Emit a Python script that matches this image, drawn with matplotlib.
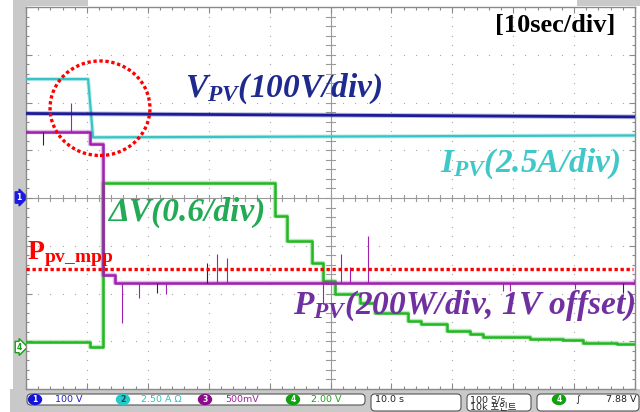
import numpy as np
import matplotlib
matplotlib.use("Agg")
import matplotlib.pyplot as plt
from matplotlib.patches import Ellipse, FancyBboxPatch, Rectangle

# time in seconds (10 s/div), vertical position in screen divisions
vpv_t = [0, 100]
vpv_lvl = [1.77, 1.70]

ipv_t = [0, 10.2, 11.0, 100]
ipv_lvl = [2.49, 2.49, 1.27, 1.31]

ppv_t = [0, 10.5, 12.6, 14.6, 100]
ppv_lvl = [1.38, 1.14, -1.61, -1.78, -1.74]

dv_t = [0, 10.5, 12.6, 40.9, 42.9, 47.0, 48.8, 50.7, 54.8, 57.3, 62.7,
        64.9, 69.1, 72.9, 75.0, 82.8, 88.2, 91.5, 97.0, 100]
dv_lvl = [-3.01, -3.12, 0.31, -0.37, -0.91, -1.36, -1.73, -2.00, -2.19, -2.41,
          -2.57, -2.64, -2.78, -2.85, -2.91, -2.95, -2.97, -3.04, -3.06, -3.06]

# glitches on the power trace
ppv_spike_t = [7.4, 15.8, 18.6, 23.0, 31.4, 33.0, 48.8, 51.7, 53.2, 56.2, 78.3, 79.5, 90.1]
ppv_spike_tip = [1.98, -2.62, -2.09, -2.01, -1.17, -1.25, -2.22, -1.17, -1.45, -0.79, -1.94, -1.95, -1.90]
dark_spike_t = [2.8, 21.5, 29.7, 98.0]
dark_spike_tip = [1.12, -1.99, -1.36, -1.99]

p_mpp = -1.48

# status bar readouts
ch_labels = ["1", "2", "3", "4"]
ch_scales = ["100 V", "2.50 A \u03a9", "500mV", "2.00 V"]
ch_colors = ["#1414d8", "#22cccc", "#8c0a8c", "#12a012"]
ch_text_colors = ["#2020c0", "#30c0c0", "#a020a0", "#20a020"]
time_scale = "10.0 s"
sample_rate = "100 S/s"
record_len = "10k 포인트"
trig_level = "7.88 V"

C_VPV = "#1c1c98"
C_IPV = "#38c4c4"
C_PPV = "#a020b0"
C_DV = "#22b822"

plt.rcParams['mathtext.fontset'] = 'custom'
plt.rcParams['mathtext.it'] = 'Liberation Serif:italic:bold'
plt.rcParams['mathtext.rm'] = 'Liberation Serif:bold'
plt.rcParams['mathtext.bf'] = 'Liberation Serif:bold'

fig = plt.figure(figsize=(6.4, 4.12), dpi=100)

# background / frame overlay in pixel coords
bg = fig.add_axes([0, 0, 1, 1])
bg.set_xlim(0, 640)
bg.set_ylim(412, 0)
bg.axis('off')
bg.set_zorder(1)
gray = "#c9c9c9"
bg.add_patch(Rectangle((13, 0), 13, 412, color=gray, lw=0))
bg.add_patch(Rectangle((10, 389), 630, 23, color=gray, lw=0))
bg.add_patch(Rectangle((13, 0), 75, 6, color=gray, lw=0))
bg.add_patch(Rectangle((577, 0), 63, 6, color=gray, lw=0))

# plot area (graticule 10 x 8 div)
ax = fig.add_axes([26 / 640, 1 - 389 / 412, 609 / 640, 382 / 412])
ax.set_zorder(2)
ax.set_xlim(0, 100)
ax.set_ylim(-4, 4)
for s in ax.spines.values():
    s.set_color("#8a8a8a")
    s.set_linewidth(1.0)
ax.set_xticks(np.arange(0, 101, 10))
ax.set_xticks(np.arange(0, 101, 2), minor=True)
ax.set_yticks(np.arange(-4, 4.01, 1))
ax.set_yticks(np.arange(-4, 4.01, 0.2), minor=True)
ax.tick_params(which='both', direction='in', top=True, right=True,
               labelbottom=False, labelleft=False, color="#8a8a8a", width=0.8)
ax.tick_params(which='major', length=4)
ax.tick_params(which='minor', length=2.5)

gx, gy = [], []
for x in range(10, 100, 10):
    for y in np.arange(-4, 4.01, 0.2):
        gx.append(x); gy.append(y)
for y in range(-3, 4):
    for x in np.arange(0, 100.1, 2):
        gx.append(x); gy.append(y)
ax.scatter(gx, gy, s=0.8, color="#a8a8a8", lw=0, zorder=1)
ax.axhline(0, color="#9a9a9a", lw=0.8, zorder=1)
ax.axvline(50, color="#9a9a9a", lw=0.8, zorder=1)
for x in np.arange(0, 100.1, 2):
    ax.plot([x, x], [-0.07, 0.07], color="#9a9a9a", lw=0.8, zorder=1)
for y in np.arange(-4, 4.01, 0.2):
    ax.plot([49.3, 50.7], [y, y], color="#9a9a9a", lw=0.8, zorder=1)


def trace(t, lv, color, lw, z, steps=False):
    ds = 'steps-post' if steps else 'default'
    # soft halo imitates the fuzzy scope trace
    ax.plot(t, lv, color=color, lw=lw + 1.4, alpha=0.3, drawstyle=ds, zorder=z)
    ax.plot(t, lv, color=color, lw=lw, drawstyle=ds, zorder=z)


trace(vpv_t, vpv_lvl, C_VPV, 2.0, 5)
trace(ipv_t, ipv_lvl, C_IPV, 1.6, 4)
trace(dv_t, dv_lvl, C_DV, 1.8, 3, steps=True)
trace(ppv_t, ppv_lvl, C_PPV, 1.8, 4, steps=True)


def level_at(ts, lv, t):
    idx = np.searchsorted(ts, t, side='right') - 1
    return np.asarray(lv)[idx]


ax.vlines(ppv_spike_t, level_at(ppv_t, ppv_lvl, ppv_spike_t), ppv_spike_tip,
          color=C_PPV, lw=0.8, zorder=4)
ax.vlines(dark_spike_t, level_at(ppv_t, ppv_lvl, dark_spike_t), dark_spike_tip,
          color="#3a1a40", lw=0.8, zorder=4)

# MPP reference and highlight circle
ax.plot([0, 99.7], [p_mpp, p_mpp], color="red", lw=2.4, linestyle=(0, (1, 0.8)), zorder=6)
ax.add_patch(Ellipse((12.15, 1.88), 16.4, 1.98, fill=False, edgecolor="red",
                     lw=2.4, linestyle=(0, (1, 0.8)), zorder=6))

# annotations
lab = dict(fontfamily='Liberation Serif', fontweight='bold', fontstyle='italic',
           fontsize=24, va='baseline', zorder=7)
ax.text(26.1, 2.11, r"$V_{PV}$(100V/div)", color="#1f2a8f", ha='left', **lab)
ax.text(97.5, 0.54, r"$I_{PV}$(2.5A/div)", color="#40c8c8", ha='right', **lab)
ax.text(13.5, -0.47, "\u0394V(0.6/div)", color="#22aa55", ha='left', **lab)
ax.text(43.8, -2.43, r"$P_{PV}$(200W/div, 1V offset)", color="#7030a0", ha='left', **lab)
ax.text(0.2, -1.27, r"P$_{\mathrm{pv\_mpp}}$", color="red", fontfamily='Liberation Serif',
        fontweight='bold', fontsize=20, va='baseline', ha='left', zorder=7)
ax.text(77.0, 3.48, "[10sec/div]", color="black", fontfamily='Liberation Serif',
        fontweight='bold', fontsize=19, va='baseline', ha='left', zorder=7)

# channel markers on the left edge
bg.text(19, 197.5, "1", color="white", fontsize=5.5, fontweight='bold', ha='center', va='center',
        bbox=dict(boxstyle='rarrow,pad=0.15', fc="#1a1ae0", ec="#1a1ae0"))
bg.text(19, 347, "4", color="#12a012", fontsize=5.5, fontweight='bold', ha='center', va='center',
        bbox=dict(boxstyle='rarrow,pad=0.15', fc="white", ec="#12a012"))

# status bar
box_kw = dict(boxstyle='round,pad=0,rounding_size=4', fc="white", ec="#555555", lw=0.8)
bg.add_patch(FancyBboxPatch((27, 394), 338, 11, **box_kw))
bg.add_patch(FancyBboxPatch((371, 394), 90, 17, **box_kw))
bg.add_patch(FancyBboxPatch((467, 394), 64, 17, **box_kw))
bg.add_patch(FancyBboxPatch((537, 394), 102, 17, **box_kw))

circle_x = [35, 123, 205, 293]
text_x = [55, 141, 225, 311]
for lbl, sc, cc, tc, cx, tx in zip(ch_labels, ch_scales, ch_colors, ch_text_colors, circle_x, text_x):
    bg.add_patch(Ellipse((cx, 399.5), 13, 10, color=cc))
    bg.text(cx, 399.8, lbl, color="white" if lbl != "2" else "#0a4a4a", fontsize=5.5,
            fontweight='bold', ha='center', va='center')
    bg.text(tx, 399.8, sc, color=tc, fontsize=6.8, ha='left', va='center')

bg.text(375, 399.8, time_scale, color="#222222", fontsize=6.8, ha='left', va='center')
bg.text(470, 399.8, sample_rate, color="#222222", fontsize=6.8, ha='left', va='center')
bg.text(470, 407.5, record_len, color="#222222", fontsize=6.8, ha='left', va='center',
        fontfamily=['DejaVu Sans', 'Noto Sans CJK KR'])
bg.add_patch(Ellipse((559, 399.5), 13, 10, color="#12a012"))
bg.text(559, 399.8, "4", color="white", fontsize=5.5, fontweight='bold', ha='center', va='center')
bg.text(578, 399.8, "\u222b", color="#222222", fontsize=6.8, ha='center', va='center')
bg.text(637, 399.8, trig_level, color="#222222", fontsize=6.8, ha='right', va='center')

fig.savefig("out.png", dpi=100)
